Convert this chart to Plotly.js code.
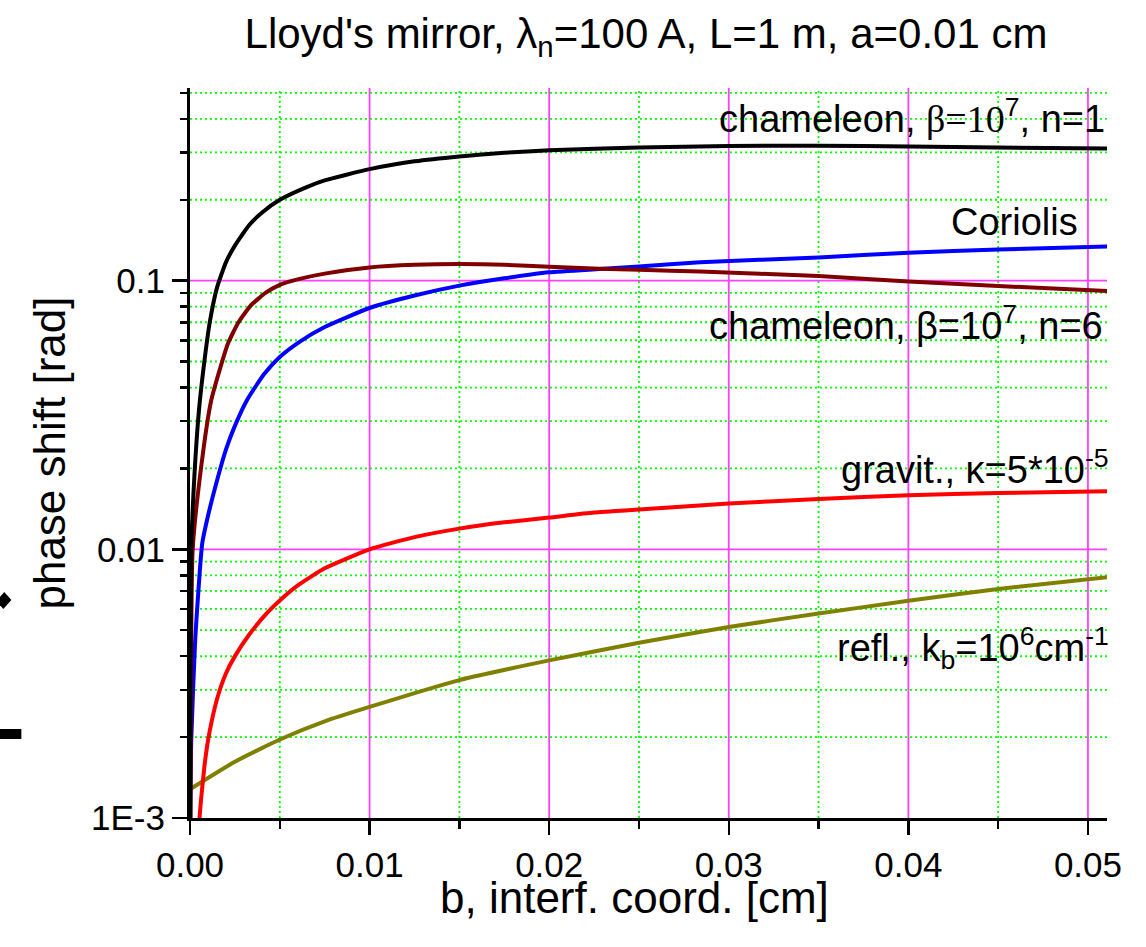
<!DOCTYPE html>
<html>
<head>
<meta charset="utf-8">
<script src="https://cdn.plot.ly/plotly-3.0.1.min.js"></script>
<style>html,body{margin:0;padding:0;background:#fff;}#chart{width:1146px;height:947px;}</style>
</head>
<body>
<div id="chart"></div>
<script>
// chameleon, beta=1e7, n=1 (black)
const chamN1X = [0.000005, 0.00002, 0.00007, 0.00025, 0.0005, 0.0008, 0.0011, 0.0015, 0.002, 0.0025, 0.0033, 0.004, 0.005, 0.0065, 0.0075, 0.01, 0.0125, 0.015, 0.0175, 0.02, 0.025, 0.03, 0.035, 0.04, 0.045, 0.0511];
const chamN1Y = [0.001, 0.003, 0.01, 0.019, 0.033, 0.05, 0.07, 0.094, 0.117, 0.135, 0.161, 0.179, 0.2, 0.223, 0.236, 0.26, 0.278, 0.29, 0.299, 0.306, 0.313, 0.317, 0.318, 0.316, 0.313, 0.31];
// chameleon, beta=1e7, n=6 (dark red)
const chamN6X = [0.00003, 0.00015, 0.00062, 0.00118, 0.0021, 0.0027, 0.0034, 0.0042, 0.005, 0.0061, 0.0075, 0.01, 0.0125, 0.015, 0.0175, 0.02, 0.0228, 0.025, 0.0284, 0.035, 0.04, 0.045, 0.0511];
const chamN6Y = [0.001, 0.01, 0.0202, 0.0358, 0.058, 0.07, 0.081, 0.09, 0.0965, 0.1015, 0.1062, 0.112, 0.1145, 0.1153, 0.1145, 0.1127, 0.1107, 0.1097, 0.1081, 0.104, 0.0993, 0.0955, 0.0915];
// Coriolis (blue)
const corX = [0.00001, 0.00007, 0.00029, 0.00068, 0.001, 0.00155, 0.002, 0.00247, 0.0032, 0.00414, 0.005, 0.0061, 0.0075, 0.01, 0.0125, 0.015, 0.0175, 0.02, 0.0228, 0.025, 0.0284, 0.035, 0.04, 0.045, 0.0511];
const corY = [0.001, 0.00195, 0.0046, 0.0105, 0.0133, 0.0185, 0.0235, 0.0285, 0.0362, 0.045, 0.052, 0.0592, 0.0672, 0.0791, 0.088, 0.0958, 0.102, 0.1074, 0.1105, 0.113, 0.117, 0.122, 0.127, 0.1305, 0.134];
// gravit., kappa=5e-5 (red)
const gravX = [0.0004, 0.00053, 0.00062, 0.0008, 0.00099, 0.0012, 0.00155, 0.002, 0.00247, 0.0033, 0.00432, 0.0052, 0.00608, 0.0075, 0.01, 0.0125, 0.015, 0.0175, 0.02, 0.0225, 0.025, 0.03, 0.035, 0.04, 0.045, 0.0511];
const gravY = [0.00071, 0.001, 0.00118, 0.00155, 0.00192, 0.00228, 0.00284, 0.00345, 0.00397, 0.00482, 0.00582, 0.00663, 0.0074, 0.0085, 0.01, 0.0111, 0.01194, 0.0126, 0.01313, 0.0137, 0.01406, 0.0148, 0.0154, 0.0159, 0.0162, 0.01644];
// refl., k_b=1e6 cm^-1 (olive)
const reflX = [0.0, 0.0025, 0.005, 0.0075, 0.01, 0.015, 0.02, 0.025, 0.03, 0.035, 0.04, 0.045, 0.0511];
const reflY = [0.00128, 0.00162, 0.00196, 0.00229, 0.00259, 0.00326, 0.00386, 0.00449, 0.00514, 0.00577, 0.00643, 0.00712, 0.00787];

const yTickVals = [0.001, 0.01, 0.1];
const yTickText = ['1E-3', '0.01', '0.1'];
const yMinorVals = [0.002,0.003,0.004,0.005,0.006,0.007,0.008,0.009,
                    0.02,0.03,0.04,0.05,0.06,0.07,0.08,0.09,
                    0.2,0.3,0.4,0.5];
const xTickVals = [0, 0.01, 0.02, 0.03, 0.04, 0.05];
const xTickText = ['0.00', '0.01', '0.02', '0.03', '0.04', '0.05'];
const xMinorVals = [0.005, 0.015, 0.025, 0.035, 0.045];

const FONT = 'Liberation Sans, Arial, Helvetica, sans-serif';
const LW = 4;
const XR = [0, 0.05106];
const YR = [-3, -0.283];
const MAGENTA = '#ff40ff';
const GREEN = '#00ff00';

function curve(x, y, color) {
  return {x: x, y: y, mode: 'lines',
          line: {color: color, width: LW, shape: 'spline', smoothing: 0.5}, hoverinfo: 'skip'};
}
const traces = [
  curve(reflX, reflY, '#808000'),
  curve(gravX, gravY, '#ff0000'),
  curve(corX, corY, '#0000ff'),
  curve(chamN6X, chamN6Y, '#800000'),
  curve(chamN1X, chamN1Y, '#000000')
];

// fraction of the plot height for a value on the log y axis
function yFrac(v) { return (Math.log10(v) - YR[0]) / (YR[1] - YR[0]); }

// grid lines (drawn beneath the curves)
const shapes = [];
xMinorVals.forEach(v => shapes.push({type: 'line', layer: 'below', xref: 'x', yref: 'paper', x0: v, x1: v, y0: 0, y1: 1,
  line: {color: GREEN, width: 1.8, dash: '2px,3px'}}));
yMinorVals.forEach(v => shapes.push({type: 'line', layer: 'below', xref: 'paper', yref: 'paper', x0: 0, x1: 1,
  y0: yFrac(v), y1: yFrac(v), line: {color: GREEN, width: 1.8, dash: '2px,3px'}}));
xTickVals.slice(1).forEach(v => shapes.push({type: 'line', layer: 'below', xref: 'x', yref: 'paper', x0: v, x1: v, y0: 0, y1: 1,
  line: {color: MAGENTA, width: 1.8}}));
yTickVals.slice(1).forEach(v => shapes.push({type: 'line', layer: 'below', xref: 'paper', yref: 'paper', x0: 0, x1: 1,
  y0: yFrac(v), y1: yFrac(v), line: {color: MAGENTA, width: 1.8}}));
// stray marks at the left edge of the original picture
shapes.push({type: 'path', xref: 'paper', yref: 'paper',
  path: 'M -0.2025,0.3096 L -0.1948,0.2986 L -0.2036,0.2863 L -0.2112,0.2973 Z',
  fillcolor: '#000', line: {width: 0}});
shapes.push({type: 'rect', xref: 'paper', yref: 'paper', x0: -0.2079, x1: -0.1839, y0: 0.1082, y1: 0.1219,
  fillcolor: '#000', line: {width: 0}});

const annFont = {family: FONT, size: 38, color: '#000'};
function ann(text, x, y) {
  return {text: text, xref: 'paper', yref: 'paper', x: x, y: y, xanchor: 'right', yanchor: 'middle',
          showarrow: false, font: annFont};
}

const layout = {
  width: 1146, height: 947,
  margin: {l: 190, r: 39, t: 88, b: 129},
  paper_bgcolor: '#fff', plot_bgcolor: '#fff',
  showlegend: false,
  font: {family: FONT, color: '#000'},
  title: {text: "Lloyd's mirror, λ<sub>n</sub>=100 A, L=1 m, a=0.01 cm",
          font: {family: FONT, size: 42, color: '#000'},
          x: 0.5637, xanchor: 'center', xref: 'container', y: 0.965, yanchor: 'middle', yref: 'container'},
  xaxis: {
    range: XR, type: 'linear',
    tickmode: 'array', tickvals: xTickVals, ticktext: xTickText,
    tickfont: {family: FONT, size: 35, color: '#000'},
    ticks: 'outside', ticklen: 14, tickwidth: 2.5, tickcolor: '#000',
    showline: true, linecolor: '#000', linewidth: 3, mirror: false,
    showgrid: false, zeroline: false, layer: 'above traces',
    minor: {tickmode: 'array', tickvals: xMinorVals, ticks: 'outside', ticklen: 8, tickwidth: 2.5, tickcolor: '#000', showgrid: false}
  },
  yaxis: {
    type: 'log', range: YR,
    tickmode: 'array', tickvals: yTickVals, ticktext: yTickText,
    tickfont: {family: FONT, size: 35, color: '#000'},
    ticks: 'outside', ticklen: 15, tickwidth: 2.5, tickcolor: '#000',
    showline: true, linecolor: '#000', linewidth: 3, mirror: false,
    showgrid: false, zeroline: false, layer: 'above traces',
    minor: {tickmode: 'array', tickvals: yMinorVals, ticks: 'outside', ticklen: 7, tickwidth: 2.5, tickcolor: '#000', showgrid: false},
    title: {text: 'phase shift [rad]', font: {family: FONT, size: 44, color: '#000'}, standoff: 12}
  },
  annotations: [
    {text: 'b, interf. coord. [cm]', xref: 'paper', yref: 'paper', x: 0.4852, y: -0.109,
     xanchor: 'center', yanchor: 'middle', showarrow: false, font: {family: FONT, size: 44, color: '#000'}},
    ann("chameleon, <span style='font-family:Liberation Serif, Times New Roman, serif'>β=10</span><sup>7</sup>, n=1", 1.0, 0.962),
    ann('Coriolis', 0.9707, 0.8164),
    ann('chameleon, β=10<sup>7</sup>, n=6', 0.998, 0.678),
    ann('gravit., κ=5*10<sup>-5</sup>', 1.004, 0.481),
    ann('refl., k<sub>b</sub>=10<sup>6</sup>cm<sup>-1</sup>', 1.004, 0.2329)
  ],
  shapes: shapes
};

Plotly.newPlot('chart', traces, layout, {displayModeBar: false, staticPlot: true});
</script>
</body>
</html>
